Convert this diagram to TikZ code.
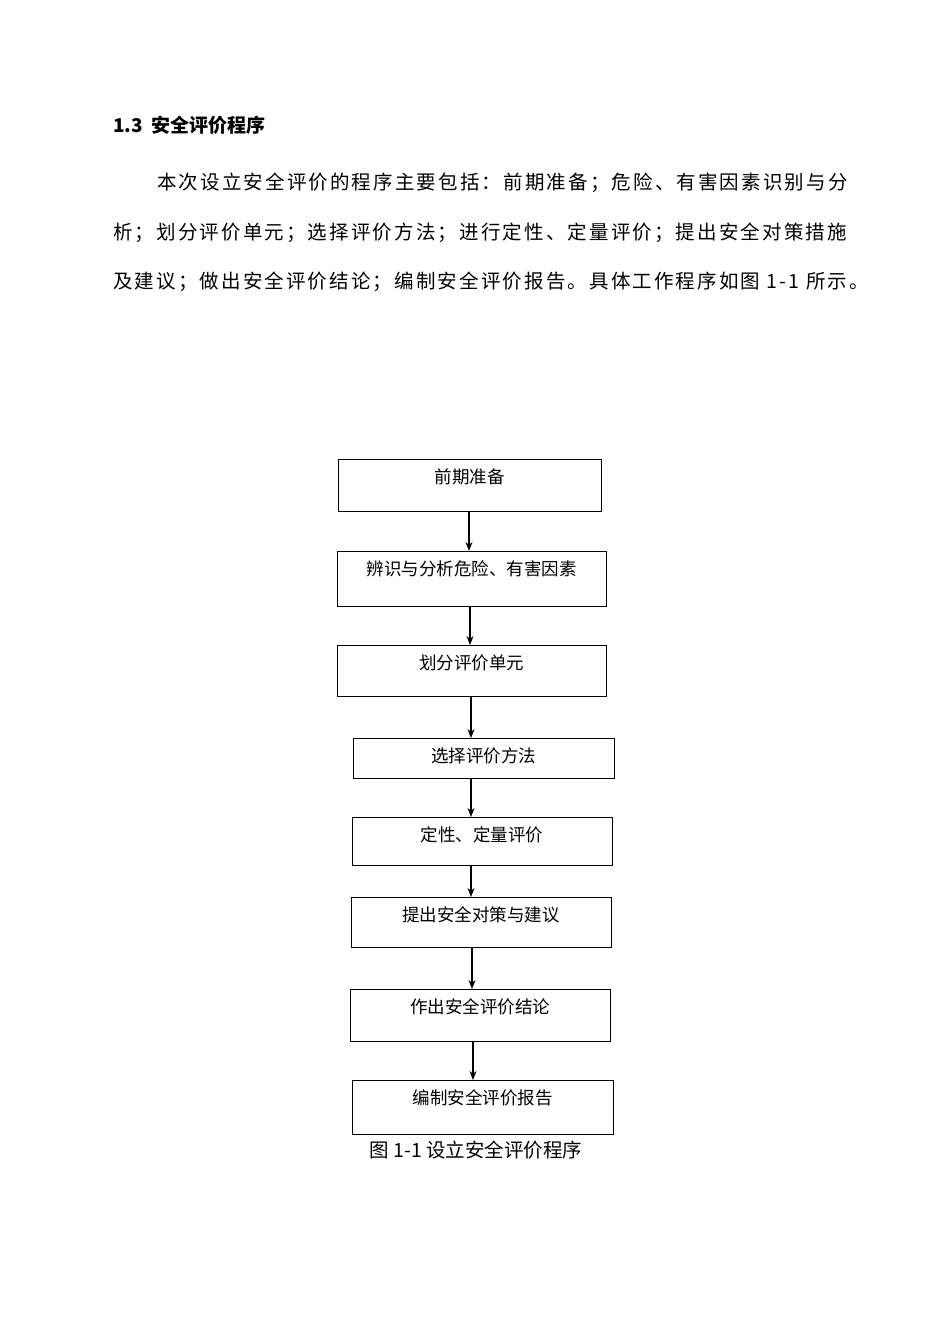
\documentclass[tikz,border=0pt]{standalone}
\usepackage{fontspec}
\setmainfont{Liberation Sans}
\newfontfamily\cjk{Noto Sans CJK SC}
\newfontfamily\cjkw[LetterSpace=11]{Noto Sans CJK SC}
\usetikzlibrary{arrows.meta}
\begin{document}
\begin{tikzpicture}[x=1pt,y=-1pt,
  bx/.style={draw,line width=1.1pt,anchor=north west,inner sep=0pt},
  ar/.style={-{Stealth[length=9pt,width=7pt]},line width=1.1pt},
  txt/.style={anchor=west,inner sep=0pt,font=\cjkw\fontsize{19.5}{22}\selectfont}]
\useasboundingbox (0,0) rectangle (950,1344);
\node[anchor=west,inner sep=0pt,font=\cjk\bfseries\fontsize{19}{22}\selectfont] (h) at (113,125) {1.3\ \ 安全评价程序};
\node[txt] (p1) at (157,183) {本次设立安全评价的程序主要包括：前期准备；危险、有害因素识别与分};
\node[txt] (p2) at (113,233) {析；划分评价单元；选择评价方法；进行定性、定量评价；提出安全对策措施};
\node[txt] (p3) at (113,282) {及建议；做出安全评价结论；编制安全评价报告。具体工作程序如图 1-1 所示。};
\foreach \n/\xa/\ya/\xb/\yb/\t in {
 b1/338/459/601/511/前期准备,
 b2/337/551/606/606/辨识与分析危险、有害因素,
 b3/337/645/606/696/划分评价单元,
 b4/353/738/614/778/选择评价方法,
 b5/352/817/612/865/定性、定量评价,
 b6/351/897/611/947/提出安全对策与建议,
 b7/350/989/610/1041/作出安全评价结论,
 b8/352/1080/613/1134/编制安全评价报告}{
  \node[bx,minimum width={\xb-\xa},minimum height={\yb-\ya}] (\n) at (\xa,\ya) {};
  \node[inner sep=0pt,font=\cjk\fontsize{17.5}{20}\selectfont] (\n t) at ({(\xa+\xb)/2},{\ya+18}) {\t};
}
\foreach \a/\b/\x in {b1/b2/469,b2/b3/470,b3/b4/471,b4/b5/471,b5/b6/471,b6/b7/472,b7/b8/473}{
  \draw[ar] (\a.south -| \x,0) -- (\b.north -| \x,0);
}
\node[inner sep=0pt,font=\cjk\fontsize{19.5}{22}\selectfont] (cap) at (476,1150) {图 1-1 设立安全评价程序};
\end{tikzpicture}
\end{document}
